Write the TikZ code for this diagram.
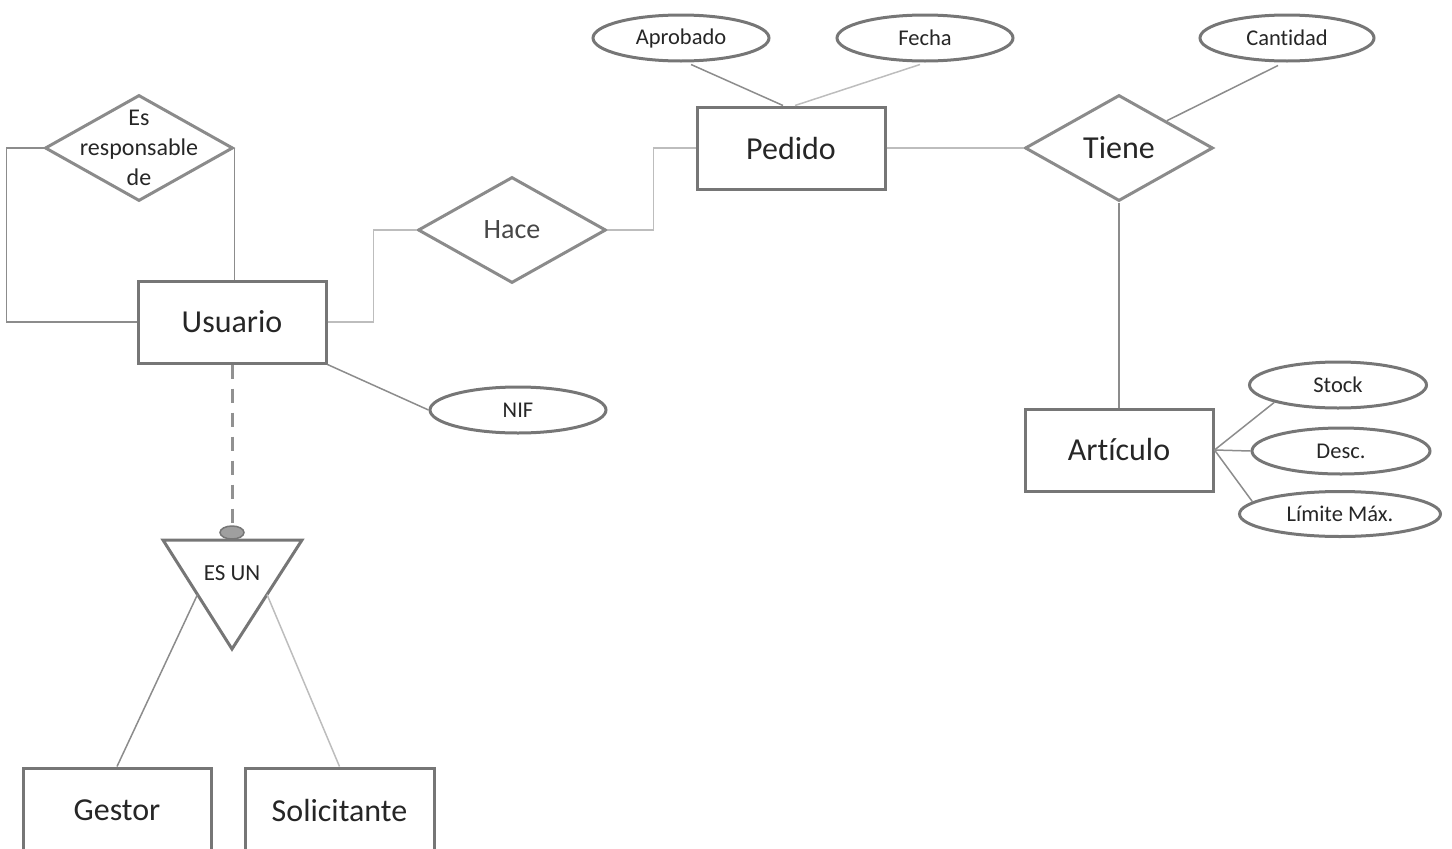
\documentclass[tikz,border=0pt]{standalone}
\usepackage{fontspec}
\setmainfont{Carlito}[RawFeature={-liga;-calt;-dlig;-clig}]
\usetikzlibrary{shapes.geometric,calc}
\definecolor{edgegray}{HTML}{767676}
\definecolor{linegray}{HTML}{8C8C8C}
\definecolor{lightline}{HTML}{BDBDBD}
\definecolor{txt}{HTML}{262626}
\tikzset{
  entity/.style={draw=edgegray, line width=3pt, minimum width=188pt, minimum height=82pt, inner sep=0pt, text=txt, font=\fontsize{32}{34}\selectfont},
  relshape/.style={diamond, draw=edgegray!85, line width=3pt, minimum width=188pt, minimum height=106pt, inner sep=0pt},
  attr/.style={ellipse, draw=edgegray, line width=3pt, minimum width=176pt, minimum height=46pt, inner sep=0pt, text=txt, font=\fontsize{22.5}{24}\selectfont},
  conn/.style={draw=linegray, line width=1.5pt},
  lconn/.style={draw=lightline, line width=1.5pt},
}
\begin{document}
\begin{tikzpicture}[x=1pt,y=-1pt]
\useasboundingbox (0,0) rectangle (1452,849);
% entities
\node[entity] (usuario) at (232,322) {Usuario};
\node[entity] (pedido) at (791,148) {Pedido};
\node[entity] (artic) at (1119,450) {Art\kern0ptículo};
\begin{scope}
\clip (0,0) rectangle (1452,849);
\node[entity, minimum height=84pt] (gestor) at (117,810) {Gestor};
\node[entity, minimum height=84pt, minimum width=189pt] (solic) at (339.5,810) {Solicitante};
\end{scope}
% relationships
\node[relshape] (resp) at (139,148) {};
\node[text=txt, align=center, font=\fontsize{24}{30}\selectfont] (resptxt) at (resp) {Es\\responsable\\de};
\node[relshape] (hace) at (512,230) {};
\node[text=txt!85, font=\fontsize{28}{30}\selectfont] (hacetxt) at (hace) {Hace};
\node[relshape] (tiene) at (1119,148) {};
\node[text=txt, font=\fontsize{32}{34}\selectfont] (tienetxt) at (tiene) {Tiene};
% attributes
\node[attr] (apro) at (681,38) {Aprobado};
\node[attr] (fecha) at (925,38) {Fecha};
\node[attr, minimum width=174pt] (cant) at (1287,38) {Cant\kern0ptidad};
\node[attr] (nif) at (518,410) {NIF};
\node[attr, minimum width=177pt] (stock) at (1338,385) {Stock};
\node[attr, minimum width=178pt] (desc) at (1341,451) {Desc.};
\node[attr, minimum width=201pt, minimum height=45pt] (lim) at (1340,514) {Límite Máx.};
% ES UN triangle
\coordinate (tl) at (163,540);
\coordinate (tr) at (302,540);
\coordinate (tb) at (232,649);
\draw[draw=edgegray, line width=3pt, line join=miter] (tl) -- (tr) -- (tb) -- cycle;
\node[text=txt, font=\fontsize{23}{24}\selectfont] (esun) at (232,573) {ES UN};
\node[ellipse, draw=edgegray, fill=edgegray!70, line width=1.5pt, minimum width=24pt, minimum height=13pt, inner sep=0pt] (dot) at (232,532.5) {};
% connectors
\draw[conn] (resp.west) -- ++(-37,0) |- (usuario.west);
\draw[conn] (resp.east) -- (resp.east |- usuario.north);
\draw[lconn] (usuario.east) -- ++(46,0) |- (hace.west);
\draw[lconn] (hace.east) -- ++(46,0) |- (pedido.west);
\draw[lconn] (pedido.east) -- (tiene.west);
\draw[conn] (tiene.south) -- (artic.north);
\draw[conn] ($(apro.south)+(10,2)$) -- ($(pedido.north)+(-8,0)$);
\draw[lconn] ($(fecha.south)+(-5,2)$) -- ($(pedido.north)+(4,0)$);
\draw[conn] ($(cant.south)+(-9,3)$) -- (tiene.north east);
\draw[conn] (usuario.south east) -- (nif.west);
\draw[conn] (artic.east) -- (stock.south west);
\draw[conn] (artic.east) -- (desc.west);
\draw[conn] (artic.east) -- (lim.172);
\draw[draw=edgegray!80, line width=3pt, dash pattern=on 14pt off 10pt] (usuario.south) -- (dot.north);
\draw[conn] (gestor.north) -- ($(tl)!0.5!(tb)$);
\draw[lconn] (solic.north) -- ($(tr)!0.5!(tb)$);
\end{tikzpicture}
\end{document}
